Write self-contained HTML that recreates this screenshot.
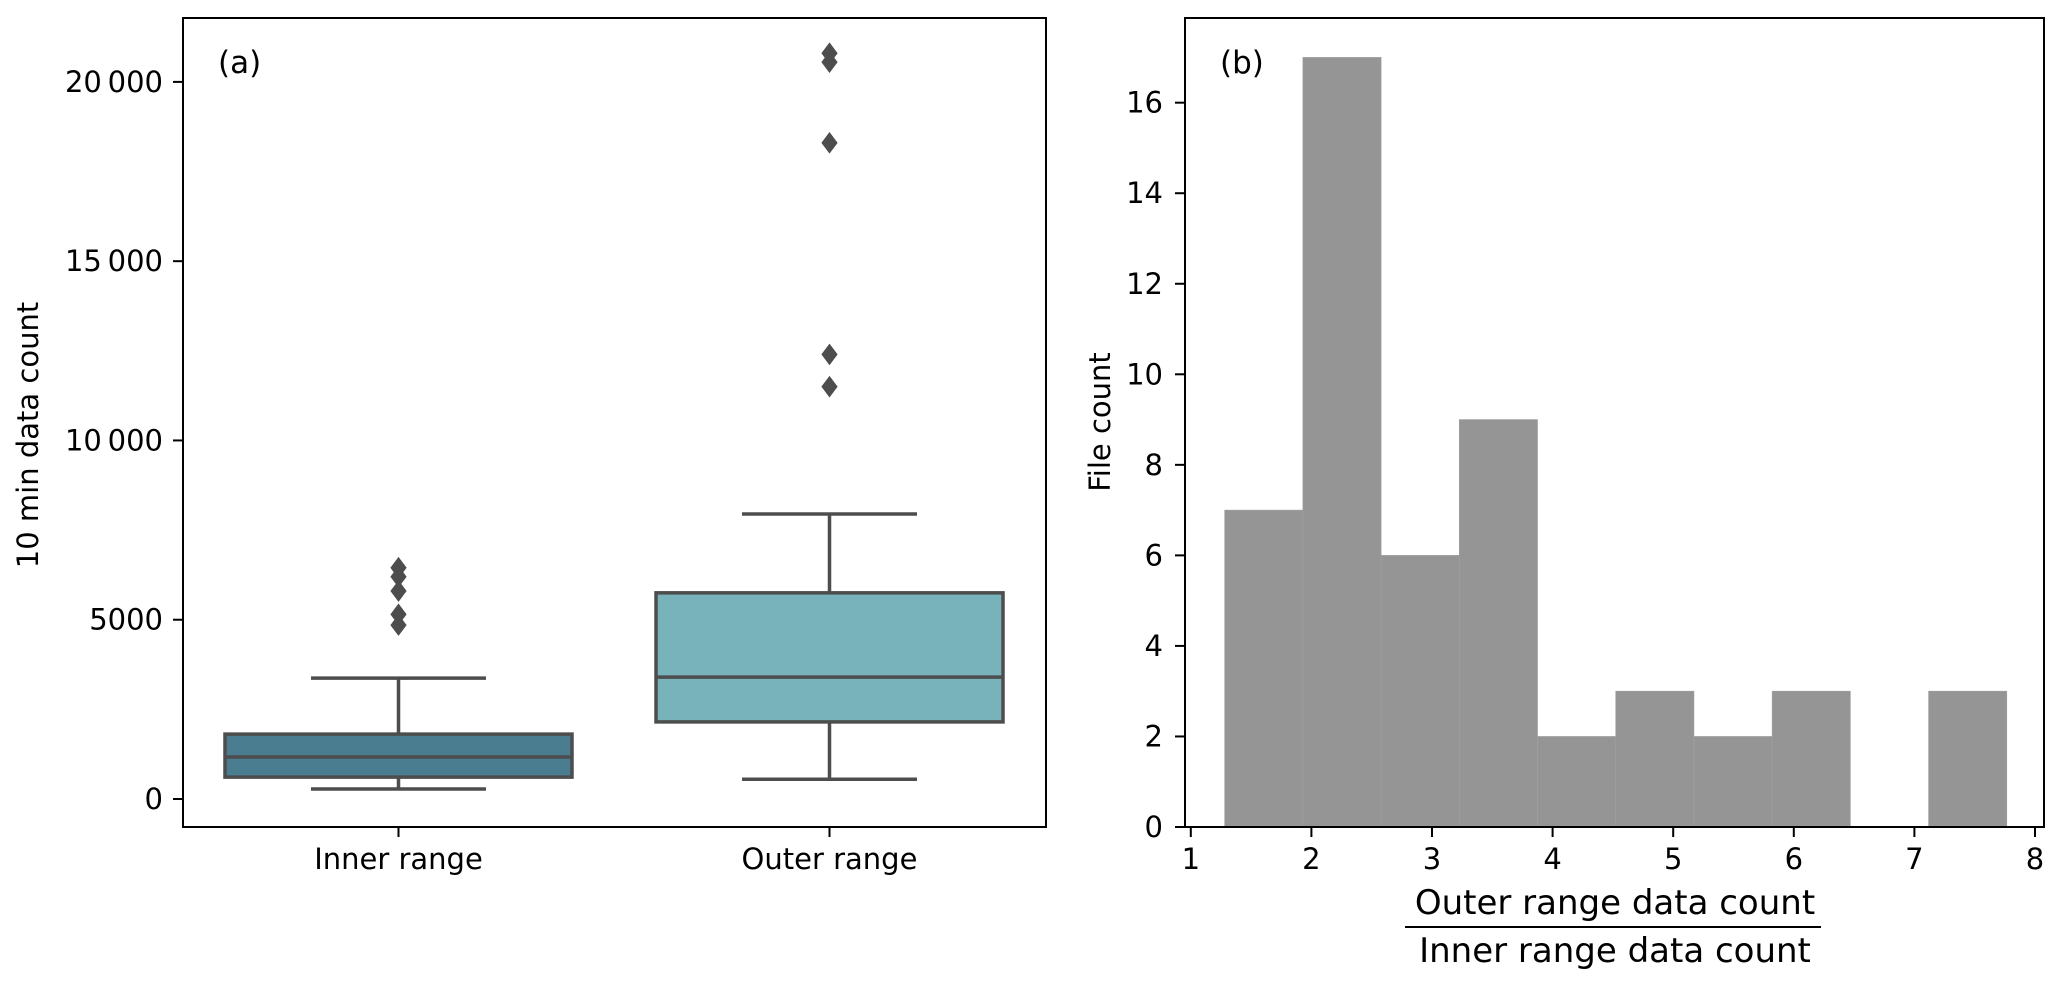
<!DOCTYPE html>
<html><head><meta charset="utf-8">
<style>
html,body{margin:0;padding:0;background:#fff;}
svg{display:block;font-family:"DejaVu Sans","Liberation Sans",sans-serif;}
</style></head>
<body>
<svg id="fig" width="2067" height="987" viewBox="0 0 2067 987" xmlns="http://www.w3.org/2000/svg">
<g id="pa"></g>
<g id="pb"></g>
</svg>
<script>
// Panel (a) data
const boxCategories = ["Inner range", "Outer range"];
const whiskerLow = [280, 550];
const q1Values = [610, 2150];
const medianValues = [1170, 3400];
const q3Values = [1810, 5750];
const whiskerHigh = [3370, 7950];
const outliersInner = [4850, 5150, 5800, 6200, 6450];
const outliersOuter = [11500, 12400, 18300, 20550, 20800];
const boxColors = ["#497d8f", "#78b2bb"];
const yTicksA = [0, 5000, 10000, 15000, 20000];
const yTickLabelsA = ["0", "5000", "10\u2009000", "15\u2009000", "20\u2009000"];

// Panel (b) data
const binEdges = [1.281, 1.9295, 2.578, 3.2265, 3.875, 4.5235, 5.172, 5.8205, 6.469, 7.1175, 7.766];
const binCounts = [7, 17, 6, 9, 2, 3, 2, 3, 0, 3];
const xTicksB = [1, 2, 3, 4, 5, 6, 7, 8];
const yTicksB = [0, 2, 4, 6, 8, 10, 12, 14, 16];

const NS = "http://www.w3.org/2000/svg";
function mk(parent, tag, attrs, text) {
  const e = document.createElementNS(NS, tag);
  for (const k in attrs) e.setAttribute(k, attrs[k]);
  if (text !== undefined) e.textContent = text;
  parent.appendChild(e);
  return e;
}
const LC = "#4d4d4d";
const FS = 29;

// ---------- Panel A ----------
const pa = document.getElementById("pa");
const A = {x0: 183, x1: 1046, y0: 18, y1: 827};
const yA = v => 799 - v * (799 - 81.9) / 20000;
const catCenters = [398.5, 829.5];
const xA = i => catCenters[0] + i * (catCenters[1] - catCenters[0]);
const boxW = 347, capW = 175;

for (let i = 0; i < boxCategories.length; i++) {
  const cx = xA(i);
  let e;
  e = mk(pa, "line", {x1: cx, x2: cx, y1: yA(whiskerLow[i]), y2: yA(q1Values[i]), stroke: LC, "stroke-width": 3.5});
  
  
  e = mk(pa, "line", {x1: cx, x2: cx, y1: yA(q3Values[i]), y2: yA(whiskerHigh[i]), stroke: LC, "stroke-width": 3.5});
  
  
  e = mk(pa, "line", {x1: cx - capW / 2, x2: cx + capW / 2, y1: yA(whiskerLow[i]), y2: yA(whiskerLow[i]), stroke: LC, "stroke-width": 3.5});
  
  
  e = mk(pa, "line", {x1: cx - capW / 2, x2: cx + capW / 2, y1: yA(whiskerHigh[i]), y2: yA(whiskerHigh[i]), stroke: LC, "stroke-width": 3.5});
  
  
  e = mk(pa, "rect", {x: cx - boxW / 2, y: yA(q3Values[i]), width: boxW, height: yA(q1Values[i]) - yA(q3Values[i]), fill: boxColors[i], stroke: LC, "stroke-width": 3.5});
  
  
  e = mk(pa, "line", {x1: cx - boxW / 2, x2: cx + boxW / 2, y1: yA(medianValues[i]), y2: yA(medianValues[i]), stroke: LC, "stroke-width": 3.5});
  
  
  const outs = i === 0 ? outliersInner : outliersOuter;
  outs.forEach(v => {
    const y = yA(v);
    const d = mk(pa, "polygon", {points: `${cx},${y - 10} ${cx + 7.5},${y} ${cx},${y + 10} ${cx - 7.5},${y}`, fill: LC, stroke: LC, "stroke-width": 1});
    
    
  });
  const t = mk(pa, "line", {x1: cx, x2: cx, y1: A.y1, y2: A.y1 + 10, stroke: "#000", "stroke-width": 2});
  
  
  const tl = mk(pa, "text", {x: cx, y: 869, "font-size": FS, "text-anchor": "middle", fill: "#000"}, boxCategories[i]);
  
  
}
yTicksA.forEach((v, k) => {
  const y = yA(v);
  const t = mk(pa, "line", {x1: A.x0 - 10, x2: A.x0, y1: y, y2: y, stroke: "#000", "stroke-width": 2});
  
  
  const tl = mk(pa, "text", {x: 163, y: y + 10, "font-size": FS, "text-anchor": "end", fill: "#000"}, yTickLabelsA[k]);
  
  
});
let fa = mk(pa, "rect", {x: A.x0, y: A.y0, width: A.x1 - A.x0, height: A.y1 - A.y0, fill: "none", stroke: "#000", "stroke-width": 2});


let la = mk(pa, "text", {x: 218, y: 73, "font-size": 31, fill: "#000"}, "(a)");


let yla = mk(pa, "text", {x: 0, y: 0, "font-size": FS, "text-anchor": "middle", fill: "#000", transform: "translate(38,435) rotate(-90)"}, "10 min data count");



// ---------- Panel B ----------
const pb = document.getElementById("pb");
const B = {x0: 1185, x1: 2044, y0: 18, y1: 827};
const xB = v => 1190.8 + (v - 1) * 120.6;
const yB = v => 827 - v * 45.27;
binCounts.forEach((c, i) => {
  if (c <= 0) return;
  const x = xB(binEdges[i]), x2 = xB(binEdges[i + 1]);
  const r = mk(pb, "rect", {x: x, y: yB(c), width: x2 - x, height: yB(0) - yB(c), fill: "#959595", stroke: "#a0a0a0", "stroke-width": 0.6});
  
  
});
xTicksB.forEach(v => {
  const x = xB(v);
  const t = mk(pb, "line", {x1: x, x2: x, y1: B.y1, y2: B.y1 + 10, stroke: "#000", "stroke-width": 2});
  
  
  const tl = mk(pb, "text", {x: x, y: 869, "font-size": FS, "text-anchor": "middle", fill: "#000"}, String(v));
  
  
});
yTicksB.forEach(v => {
  const y = yB(v);
  const t = mk(pb, "line", {x1: B.x0 - 10, x2: B.x0, y1: y, y2: y, stroke: "#000", "stroke-width": 2});
  
  
  const tl = mk(pb, "text", {x: 1163, y: y + 10, "font-size": FS, "text-anchor": "end", fill: "#000"}, String(v));
  
  
});
let fb = mk(pb, "rect", {x: B.x0, y: B.y0, width: B.x1 - B.x0, height: B.y1 - B.y0, fill: "none", stroke: "#000", "stroke-width": 2});


let lb = mk(pb, "text", {x: 1220, y: 73, "font-size": 31, fill: "#000"}, "(b)");


let ylb = mk(pb, "text", {x: 0, y: 0, "font-size": FS, "text-anchor": "middle", fill: "#000", transform: "translate(1110,422) rotate(-90)"}, "File count");


let num = mk(pb, "text", {x: 1615, y: 914, "font-size": 34, "text-anchor": "middle", fill: "#000"}, "Outer range data count");


let bar = mk(pb, "line", {x1: 1405, x2: 1821, y1: 927, y2: 927, stroke: "#000", "stroke-width": 2});


let den = mk(pb, "text", {x: 1615, y: 962, "font-size": 34, "text-anchor": "middle", fill: "#000"}, "Inner range data count");


</script>
</body></html>
